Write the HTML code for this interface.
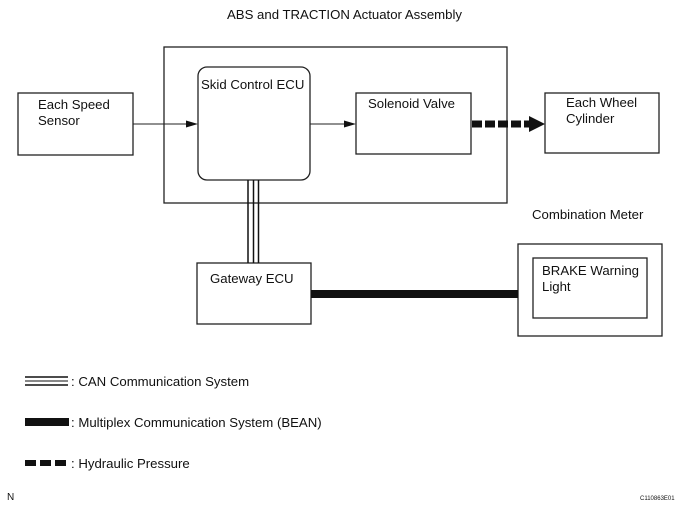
<!DOCTYPE html>
<html><head><style>
body{margin:0;background:#fff;}
svg{display:block;font-family:"Liberation Sans",Arial,sans-serif;}
text{font-size:13.2px;fill:#111;}
</style></head><body>
<svg width="686" height="510" viewBox="0 0 686 510" xmlns="http://www.w3.org/2000/svg">
<g fill="none" stroke="#222" stroke-width="1.3">
<rect x="164" y="47" width="343" height="156"/>
<rect x="18" y="93" width="115" height="62"/>
<rect x="198" y="67" width="112" height="113" rx="9"/>
<rect x="356" y="93" width="115" height="61"/>
<rect x="545" y="93" width="114" height="60"/>
<rect x="197" y="263" width="114" height="61"/>
<rect x="518" y="244" width="144" height="92"/>
<rect x="533" y="258" width="114" height="60"/>
</g>
<line x1="133" y1="124" x2="188" y2="124" stroke="#222" stroke-width="1"/>
<polygon points="198,124 186,120.5 186,127.5" fill="#111"/>
<line x1="310" y1="124" x2="346" y2="124" stroke="#222" stroke-width="1"/>
<polygon points="356,124 344,120.5 344,127.5" fill="#111"/>
<line x1="472" y1="124" x2="530" y2="124" stroke="#111" stroke-width="7" stroke-dasharray="10,3"/>
<polygon points="545,124 529,116 529,132" fill="#111"/>
<g stroke="#111" stroke-width="1.5">
<line x1="248" y1="180" x2="248" y2="263"/>
<line x1="253.5" y1="180" x2="253.5" y2="263"/>
<line x1="258.5" y1="180" x2="258.5" y2="263"/>
</g>
<rect x="311" y="290" width="207" height="8" fill="#111"/>
<text x="227" y="19">ABS and TRACTION Actuator Assembly</text>
<text x="38" y="109">Each Speed</text>
<text x="38" y="125">Sensor</text>
<text x="201" y="89">Skid Control ECU</text>
<text x="368" y="108">Solenoid Valve</text>
<text x="566" y="107">Each Wheel</text>
<text x="566" y="123">Cylinder</text>
<text x="532" y="219">Combination Meter</text>
<text x="210" y="283">Gateway ECU</text>
<text x="542" y="275">BRAKE Warning</text>
<text x="542" y="291">Light</text>
<g stroke="#111">
<line x1="25" y1="377" x2="68" y2="377" stroke-width="1.5"/>
<line x1="25" y1="381" x2="68" y2="381" stroke-width="1"/>
<line x1="25" y1="385" x2="68" y2="385" stroke-width="1.5"/>
</g>
<text x="71" y="386">: CAN Communication System</text>
<rect x="25" y="418" width="44" height="8" fill="#111"/>
<text x="71" y="427">: Multiplex Communication System (BEAN)</text>
<line x1="25" y1="463" x2="68" y2="463" stroke="#111" stroke-width="6" stroke-dasharray="11,4"/>
<text x="71" y="468">: Hydraulic Pressure</text>
<text x="7" y="500" style="font-size:10px">N</text>
<text x="640" y="500" style="font-size:6px">C110863E01</text>
</svg>
</body></html>
